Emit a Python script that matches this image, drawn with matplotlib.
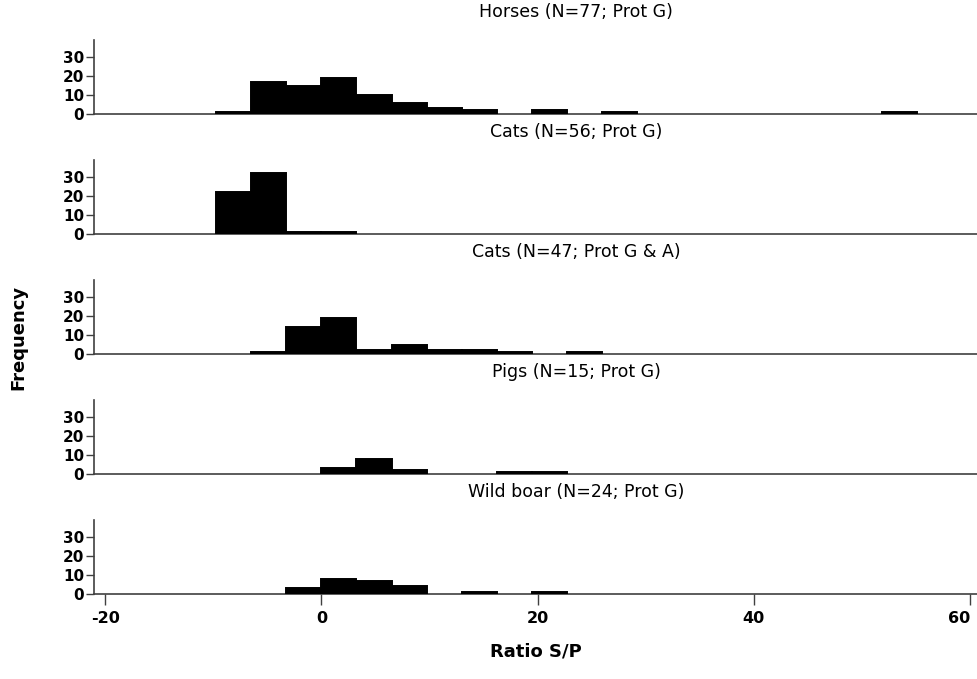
import numpy as np
import matplotlib
matplotlib.use('Agg')
import matplotlib.pyplot as plt

plt.rcParams['font.family'] = ['DejaVu Sans']

# histogram bins (Ratio S/P), 20 bins
bin_start = -9.72
bin_width = 3.24
n_bins = 20

titles = ['Horses (N=77; Prot G)',
          'Cats (N=56; Prot G)',
          'Cats (N=47; Prot G & A)',
          'Pigs (N=15; Prot G)',
          'Wild boar (N=24; Prot G)']

horses = [1, 17, 15, 19, 10, 6, 3, 2, 0, 2, 0, 1, 0, 0, 0, 0, 0, 0, 0, 1]
cats_g = [22, 32, 1, 1, 0, 0, 0, 0, 0, 0, 0, 0, 0, 0, 0, 0, 0, 0, 0, 0]
cats_ga = [0, 1, 14, 19, 2, 5, 2, 2, 1, 0, 1, 0, 0, 0, 0, 0, 0, 0, 0, 0]
pigs = [0, 0, 0, 3, 8, 2, 0, 0, 1, 1, 0, 0, 0, 0, 0, 0, 0, 0, 0, 0]
boar = [0, 0, 3, 8, 7, 4, 0, 1, 0, 1, 0, 0, 0, 0, 0, 0, 0, 0, 0, 0]
series = [horses, cats_g, cats_ga, pigs, boar]

y_ticks = [0, 10, 20, 30]
x_ticks = [-20, 0, 20, 40, 60]

lefts = bin_start + bin_width * np.arange(n_bins)

W, H = 978, 679
fig = plt.figure(figsize=(W / 100, H / 100), dpi=100)

axis_col = '#404040'
for i, (title, counts) in enumerate(zip(titles, series)):
    base_px = 114 + 120 * i
    ax = fig.add_axes([94 / W, 1 - base_px / H, 1 - 94 / W, 74 / H])
    counts = np.array(counts)
    m = counts > 0
    ax.bar(lefts[m], counts[m], width=bin_width, align='edge',
           color='black', edgecolor='black', linewidth=1.4, zorder=3)
    ax.set_xlim(-21.05, 60.75)
    ax.set_ylim(0, 39)
    ax.set_yticks(y_ticks)
    ax.set_yticklabels([str(t) for t in y_ticks], fontsize=11, fontweight='bold')
    ax.tick_params(axis='y', length=6, width=1, color=axis_col, pad=1)
    for s in ['top', 'right']:
        ax.spines[s].set_visible(False)
    for s in ['left', 'bottom']:
        ax.spines[s].set_color(axis_col)
        ax.spines[s].set_linewidth(1.2)
    if i < 4:
        ax.set_xticks([])
    else:
        ax.set_xticks(x_ticks)
        ax.set_xticklabels([str(t) for t in x_ticks], fontsize=11.5, fontweight='bold')
        ax.get_xticklabels()[-1].set_horizontalalignment('right')
        ax.tick_params(axis='x', length=8, width=1, color=axis_col, pad=4)
    fig.text(576 / W, 1 - (12 + 120 * i) / H, title, ha='center', va='center',
             fontsize=12.5)

fig.text(18 / W, 1 - 337 / H, 'Frequency', rotation=90, ha='center', va='center',
         fontsize=13, fontweight='bold')
fig.text(536 / W, 1 - 652 / H, 'Ratio S/P', ha='center', va='center',
         fontsize=13, fontweight='bold')

fig.savefig('out.png', dpi=100)
